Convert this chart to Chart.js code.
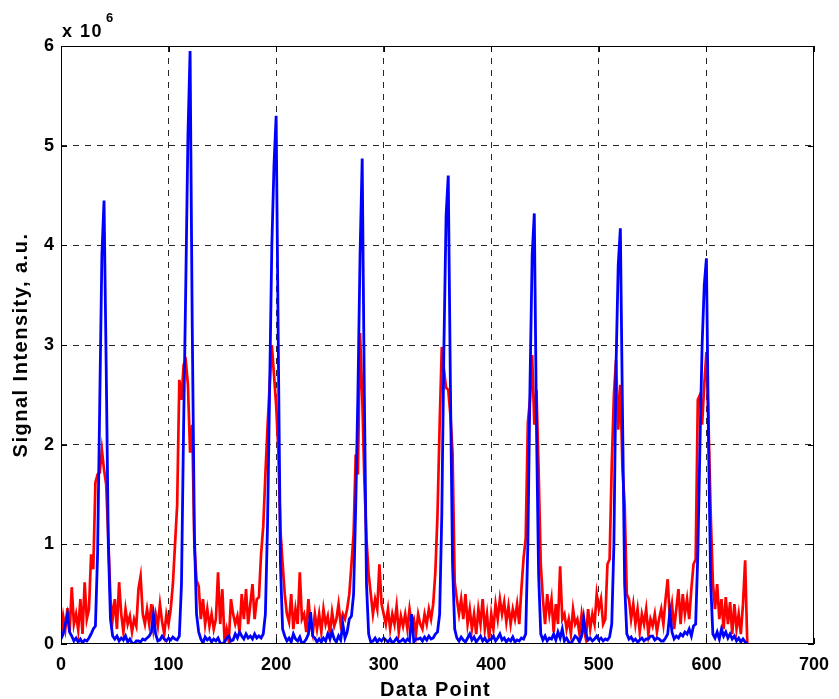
<!DOCTYPE html>
<html>
<head>
<meta charset="utf-8">
<script src="https://cdn.jsdelivr.net/npm/chart.js@4.4.1/dist/chart.umd.min.js"></script>
<style>
  html, body { margin: 0; padding: 0; background: #fff; }
  canvas { display: block; }
</style>
</head>
<body>
<canvas id="signalChart" width="839" height="699"></canvas>
<script>
// signal values in units of 1e6, one value every 2nd data point (0, 2, 4 ... 638)
let redSignal = [
  // 0 - 78
  0.10, 0.28, 0.15, 0.36, 0.12, 0.57, 0.20, 0.30, 0.14, 0.45,
  0.10, 0.62, 0.25, 0.35, 0.90, 0.75, 1.62, 1.70, 1.72, 1.95,
  1.75, 1.60, 1.05, 0.45, 0.25, 0.45, 0.15, 0.62, 0.30, 0.12,
  0.35, 0.20, 0.28, 0.12, 0.25, 0.18, 0.55, 0.68, 0.30, 0.20,
  // 80 - 158
  0.35, 0.20, 0.40, 0.15, 0.30, 0.18, 0.40, 0.22, 0.10, 0.30,
  0.20, 0.35, 0.60, 1.00, 1.40, 2.65, 2.45, 2.80, 2.84, 2.60,
  1.92, 2.20, 0.98, 0.64, 0.58, 0.25, 0.45, 0.20, 0.35, 0.18,
  0.30, 0.15, 0.25, 0.72, 0.20, 0.55, 0.04, 0.15, 0.03, 0.45,
  // 160 - 238
  0.30, 0.20, 0.28, 0.12, 0.50, 0.25, 0.55, 0.20, 0.40, 0.60,
  0.25, 0.45, 0.47, 0.90, 1.18, 1.70, 2.18, 2.60, 3.00, 2.70,
  2.40, 1.95, 1.14, 0.81, 0.50, 0.30, 0.22, 0.50, 0.15, 0.35,
  0.20, 0.72, 0.25, 0.30, 0.12, 0.45, 0.20, 0.10, 0.30, 0.15,
  // 240 - 318
  0.30, 0.12, 0.35, 0.20, 0.28, 0.10, 0.32, 0.18, 0.25, 0.40,
  0.20, 0.30, 0.25, 0.35, 0.50, 0.80, 1.10, 1.90, 1.70, 3.12,
  2.50, 1.65, 1.05, 0.70, 0.50, 0.30, 0.45, 0.35, 0.80, 0.40,
  0.30, 0.20, 0.35, 0.15, 0.30, 0.20, 0.38, 0.12, 0.28, 0.18,
  // 320 - 398
  0.30, 0.15, 0.35, 0.20, 0.25, 0.10, 0.30, 0.20, 0.15, 0.30,
  0.20, 0.35, 0.25, 0.40, 0.72, 1.30, 2.20, 2.98, 2.75, 2.57,
  2.55, 2.30, 1.92, 0.62, 0.45, 0.30, 0.45, 0.25, 0.50, 0.20,
  0.35, 0.15, 0.30, 0.10, 0.35, 0.20, 0.45, 0.15, 0.30, 0.05,
  // 400 - 478
  0.30, 0.15, 0.40, 0.25, 0.45, 0.30, 0.42, 0.22, 0.38, 0.20,
  0.35, 0.25, 0.40, 0.20, 0.55, 0.86, 1.06, 2.22, 2.45, 2.90,
  2.20, 2.55, 1.75, 0.80, 0.45, 0.20, 0.50, 0.30, 0.45, 0.12,
  0.40, 0.20, 0.78, 0.25, 0.30, 0.15, 0.25, 0.10, 0.35, 0.20,
  // 480 - 558
  0.25, 0.10, 0.30, 0.15, 0.05, 0.35, 0.15, 0.30, 0.20, 0.50,
  0.35, 0.45, 0.20, 0.25, 0.80, 0.85, 1.80, 2.50, 2.85, 2.15,
  2.60, 1.75, 1.40, 0.50, 0.45, 0.25, 0.40, 0.20, 0.35, 0.12,
  0.30, 0.20, 0.35, 0.10, 0.25, 0.18, 0.30, 0.12, 0.25, 0.35,
  // 560 - 638
  0.20, 0.45, 0.65, 0.25, 0.40, 0.15, 0.35, 0.55, 0.20, 0.50,
  0.30, 0.45, 0.25, 0.55, 0.80, 0.85, 2.45, 2.50, 2.20, 2.60,
  2.93, 2.20, 1.30, 0.62, 0.35, 0.60, 0.25, 0.45, 0.15, 0.47,
  0.20, 0.42, 0.10, 0.40, 0.15, 0.30, 0.10, 0.40, 0.84, 0.00,
];

let blueSignal = [
  // 0 - 78
  0.05, 0.10, 0.20, 0.30, 0.12, 0.08, 0.03, 0.06, 0.02, 0.05,
  0.01, 0.04, 0.03, 0.06, 0.10, 0.15, 0.18, 0.90, 2.40, 3.90,
  4.45, 2.80, 1.00, 0.25, 0.08, 0.05, 0.08, 0.03, 0.06, 0.04,
  0.08, 0.02, 0.05, 0.01, 0.00, 0.03, 0.03, 0.02, 0.05, 0.04,
  // 80 - 158
  0.06, 0.08, 0.12, 0.29, 0.10, 0.03, 0.04, 0.08, 0.05, 0.03,
  0.06, 0.04, 0.07, 0.05, 0.04, 0.08, 0.60, 2.20, 3.60, 5.10,
  5.95, 3.20, 1.10, 0.30, 0.12, 0.05, 0.01, 0.07, 0.04, 0.06,
  0.02, 0.05, 0.03, 0.06, 0.01, 0.00, 0.02, 0.06, 0.08, 0.03,
  // 160 - 238
  0.04, 0.10, 0.06, 0.12, 0.08, 0.05, 0.10, 0.06, 0.08, 0.05,
  0.10, 0.06, 0.08, 0.06, 0.10, 0.30, 1.20, 2.60, 4.00, 4.80,
  5.30, 3.00, 0.80, 0.15, 0.08, 0.03, 0.06, 0.02, 0.10, 0.05,
  0.03, 0.07, 0.00, 0.02, 0.05, 0.10, 0.32, 0.08, 0.06, 0.02,
  // 240 - 318
  0.05, 0.02, 0.06, 0.03, 0.10, 0.05, 0.12, 0.05, 0.02, 0.08,
  0.04, 0.20, 0.06, 0.12, 0.25, 0.28, 0.50, 1.40, 2.50, 3.90,
  4.87, 2.50, 0.60, 0.10, 0.02, 0.03, 0.06, 0.02, 0.05, 0.03,
  0.06, 0.04, 0.02, 0.05, 0.01, 0.03, 0.06, 0.02, 0.03, 0.05,
  // 320 - 398
  0.02, 0.05, 0.03, 0.30, 0.02, 0.05, 0.05, 0.06, 0.03, 0.07,
  0.04, 0.08, 0.05, 0.06, 0.10, 0.12, 0.30, 1.30, 3.00, 4.30,
  4.70, 2.60, 0.80, 0.15, 0.06, 0.03, 0.07, 0.04, 0.02, 0.06,
  0.10, 0.04, 0.07, 0.02, 0.05, 0.08, 0.03, 0.06, 0.02, 0.04,
  // 400 - 478
  0.05, 0.08, 0.03, 0.06, 0.10, 0.04, 0.06, 0.02, 0.05, 0.03,
  0.07, 0.02, 0.04, 0.03, 0.06, 0.05, 0.10, 1.00, 2.60, 3.90,
  4.32, 2.20, 0.70, 0.10, 0.04, 0.08, 0.03, 0.06, 0.05, 0.10,
  0.04, 0.12, 0.06, 0.15, 0.03, 0.06, 0.02, 0.00, 0.04, 0.08,
  // 480 - 558
  0.06, 0.02, 0.08, 0.26, 0.10, 0.04, 0.06, 0.03, 0.05, 0.08,
  0.04, 0.06, 0.03, 0.05, 0.04, 0.07, 0.20, 1.00, 2.80, 3.80,
  4.17, 2.30, 0.60, 0.10, 0.05, 0.07, 0.03, 0.05, 0.02, 0.04,
  0.06, 0.03, 0.05, 0.05, 0.08, 0.08, 0.04, 0.06, 0.05, 0.03,
  // 560 - 638
  0.03, 0.06, 0.10, 0.32, 0.12, 0.05, 0.08, 0.06, 0.10, 0.08,
  0.12, 0.10, 0.15, 0.08, 0.18, 0.20, 0.90, 2.00, 3.00, 3.60,
  3.87, 2.00, 0.60, 0.10, 0.06, 0.12, 0.05, 0.15, 0.08, 0.12,
  0.06, 0.10, 0.05, 0.08, 0.03, 0.06, 0.02, 0.05, 0.02, 0.00,
];

// data point index of each sample
let dataPoint = redSignal.map((v, i) => i * 2);

let xTicks = [0, 100, 200, 300, 400, 500, 600, 700];
let yTicks = [0, 1, 2, 3, 4, 5, 6];

const font = "'Liberation Sans', Arial, Helvetica, sans-serif";

const toPoints = (values) => values.map((v, i) => ({ x: dataPoint[i], y: v }));

// box, inner ticks, axis titles and the x 10^6 multiplier
const matlabFrame = {
  id: "matlabFrame",
  afterDraw(chart) {
    const { ctx, chartArea: a, scales } = chart;
    ctx.save();
    ctx.strokeStyle = "#000";
    ctx.lineWidth = 1;
    ctx.strokeRect(a.left + 0.5, a.top + 0.5, a.right - a.left - 1, a.bottom - a.top - 1);
    ctx.beginPath();
    xTicks.forEach((t) => {
      const x = Math.round(scales.x.getPixelForValue(t)) + 0.5;
      ctx.moveTo(x, a.bottom);
      ctx.lineTo(x, a.bottom - 6);
      ctx.moveTo(x, a.top);
      ctx.lineTo(x, a.top + 6);
    });
    yTicks.forEach((t) => {
      const y = Math.round(scales.y.getPixelForValue(t)) + 0.5;
      ctx.moveTo(a.left, y);
      ctx.lineTo(a.left + 6, y);
      ctx.moveTo(a.right, y);
      ctx.lineTo(a.right - 6, y);
    });
    ctx.stroke();

    ctx.fillStyle = "#000";
    ctx.textAlign = "left";
    ctx.textBaseline = "alphabetic";
    ctx.letterSpacing = "1.5px";
    ctx.font = "bold 18px " + font;
    ctx.fillText("x 10", a.left + 1, 37);
    ctx.letterSpacing = "0px";
    ctx.font = "bold 13px " + font;
    ctx.fillText("6", a.left + 45, 22);

    ctx.font = "bold 20px " + font;
    ctx.letterSpacing = "1.2px";
    ctx.textAlign = "center";
    ctx.fillText("Data Point", (a.left + a.right) / 2 - 2, 696);

    ctx.letterSpacing = "1.5px";
    ctx.translate(27, (a.top + a.bottom) / 2);
    ctx.rotate(-Math.PI / 2);
    ctx.fillText("Signal Intensity, a.u.", 0, 0);
    ctx.restore();
  },
};

new Chart(document.getElementById("signalChart"), {
  type: "scatter",
  data: {
    datasets: [
      {
        label: "red",
        data: toPoints(redSignal),
        showLine: true,
        borderColor: "#ff0000",
        borderWidth: 2.7,
        pointRadius: 0,
        tension: 0,
        order: 2,
      },
      {
        label: "blue",
        data: toPoints(blueSignal),
        showLine: true,
        borderColor: "#0000ff",
        borderWidth: 2.8,
        pointRadius: 0,
        tension: 0,
        order: 1,
      },
    ],
  },
  options: {
    responsive: false,
    animation: false,
    devicePixelRatio: 1,
    layout: {
      padding: { top: 46, right: 22, left: 0, bottom: 0 },
    },
    scales: {
      x: {
        type: "linear",
        min: 0,
        max: 700,
        afterBuildTicks: (scale) => {
          scale.ticks = xTicks.map((v) => ({ value: v }));
        },
        afterFit: (scale) => {
          scale.height = 55;
        },
        grid: {
          drawTicks: false,
          color: (c) =>
            c.tick && (c.tick.value === 0 || c.tick.value === 700)
              ? "rgba(0,0,0,0)"
              : "rgba(0,0,0,0.85)",
        },
        border: { display: false, dash: [6, 6] },
        ticks: {
          padding: 10,
          color: "#000",
          font: { family: font, weight: "bold", size: 18 },
        },
      },
      y: {
        type: "linear",
        min: 0,
        max: 6,
        afterBuildTicks: (scale) => {
          scale.ticks = yTicks.map((v) => ({ value: v }));
        },
        afterFit: (scale) => {
          scale.width = 61;
        },
        grid: {
          drawTicks: false,
          color: (c) =>
            c.tick && (c.tick.value === 0 || c.tick.value === 6)
              ? "rgba(0,0,0,0)"
              : "rgba(0,0,0,0.85)",
        },
        border: { display: false, dash: [6, 6] },
        ticks: {
          padding: 7,
          color: "#000",
          font: { family: font, weight: "bold", size: 18 },
        },
      },
    },
    plugins: {
      legend: { display: false },
      tooltip: { enabled: false },
    },
  },
  plugins: [matlabFrame],
});
</script>
</body>
</html>
